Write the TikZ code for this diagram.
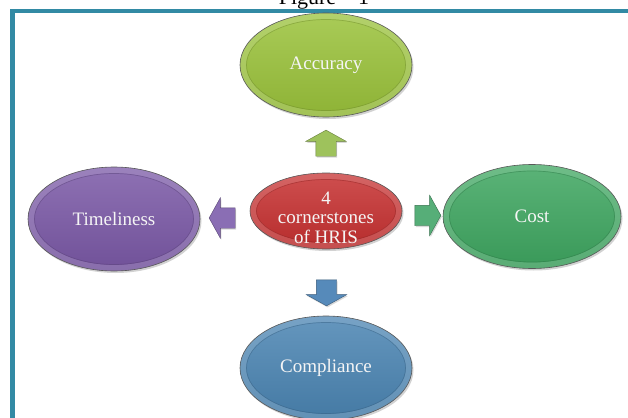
\documentclass[tikz,border=0pt]{standalone}
\usepackage{fontspec}
\setmainfont{Liberation Serif}
\usetikzlibrary{shapes.geometric,shapes.arrows,shadows,calc}
\definecolor{frameteal}{RGB}{50,138,164}
\definecolor{cAcc}{RGB}{154,194,58}
\definecolor{cHub}{RGB}{198,48,48}
\definecolor{cTime}{RGB}{122,88,166}
\definecolor{cCost}{RGB}{62,166,96}
\definecolor{cComp}{RGB}{74,132,178}
\definecolor{aAcc}{RGB}{158,194,92}
\definecolor{aTime}{RGB}{138,110,180}
\definecolor{aCost}{RGB}{86,174,120}
\definecolor{aComp}{RGB}{86,138,186}
\tikzset{
  bevel/.style={path picture={
    \draw[#1!60!white, line width=12pt, opacity=0.4]
      let \p1=(path picture bounding box.north east),
          \p2=(path picture bounding box.center) in
      (\p2) ellipse ({\x1-\x2} and {\y1-\y2});
    \draw[#1!70!black, line width=0.7pt, opacity=0.45]
      let \p1=(path picture bounding box.north east),
          \p2=(path picture bounding box.center) in
      (\p2) ellipse ({\x1-\x2-6.5pt} and {\y1-\y2-6.5pt});}},
  oval/.style={ellipse, draw=black!65, line width=0.6pt,
    minimum width=172pt, minimum height=104pt, inner sep=0pt,
    top color=#1!85!white, bottom color=#1!92!black,
    text=white!96!black, font=\fontsize{19}{21}\selectfont,
    drop shadow={opacity=0.35, shadow xshift=1.5pt, shadow yshift=-2pt},
    bevel=#1},
  blockarrow/.style={single arrow, draw=#1!65!black, line width=0.4pt,
    fill=#1, inner sep=10pt, minimum height=25pt,
    single arrow head extend=10pt, single arrow tip angle=122,
    drop shadow={opacity=0.3, shadow xshift=1pt, shadow yshift=-1.5pt}},
}
\begin{document}
\begin{tikzpicture}[x=1pt,y=-1pt]
\useasboundingbox (0,0) rectangle (628,417);
\fill[white] (0,0) rectangle (628,417);
% caption, cut off at the top as in the reference
\node[anchor=base, font=\fontsize{22}{24}\selectfont, inner sep=0pt] (fig) at (324,5) {Figure – 1};
% frame
\draw[frameteal, line width=4.5pt] (12.5,11) rectangle (660,460);
% ovals
\node[oval=cAcc] (acc) at (326,65) {Accuracy};
\node[oval=cTime] (time) at (114,219) {Timeliness};
\node[oval=cCost, minimum width=178pt] (cost) at (532,216.5) {Cost};
\node[oval=cComp] (comp) at (326,368) {Compliance};
\node[oval=cHub, minimum width=152pt, minimum height=76pt] (hub) at (326,211)
  {\fontsize{19}{19.5}\selectfont\raisebox{-13pt}[0pt][0pt]{\makebox[0pt]{\begin{tabular}{@{}c@{}}4\\cornerstones\\of HRIS\end{tabular}}}};
% block arrows
\node[blockarrow=aAcc, shape border rotate=90] (aup) at (326,146) {};
\node[blockarrow=aTime, shape border rotate=180] (aleft) at (225,218) {};
\node[blockarrow=aCost, shape border rotate=0] (aright) at (425,215.5) {};
\node[blockarrow=aComp, shape border rotate=270] (adown) at (326.5,290) {};
\end{tikzpicture}
\end{document}
